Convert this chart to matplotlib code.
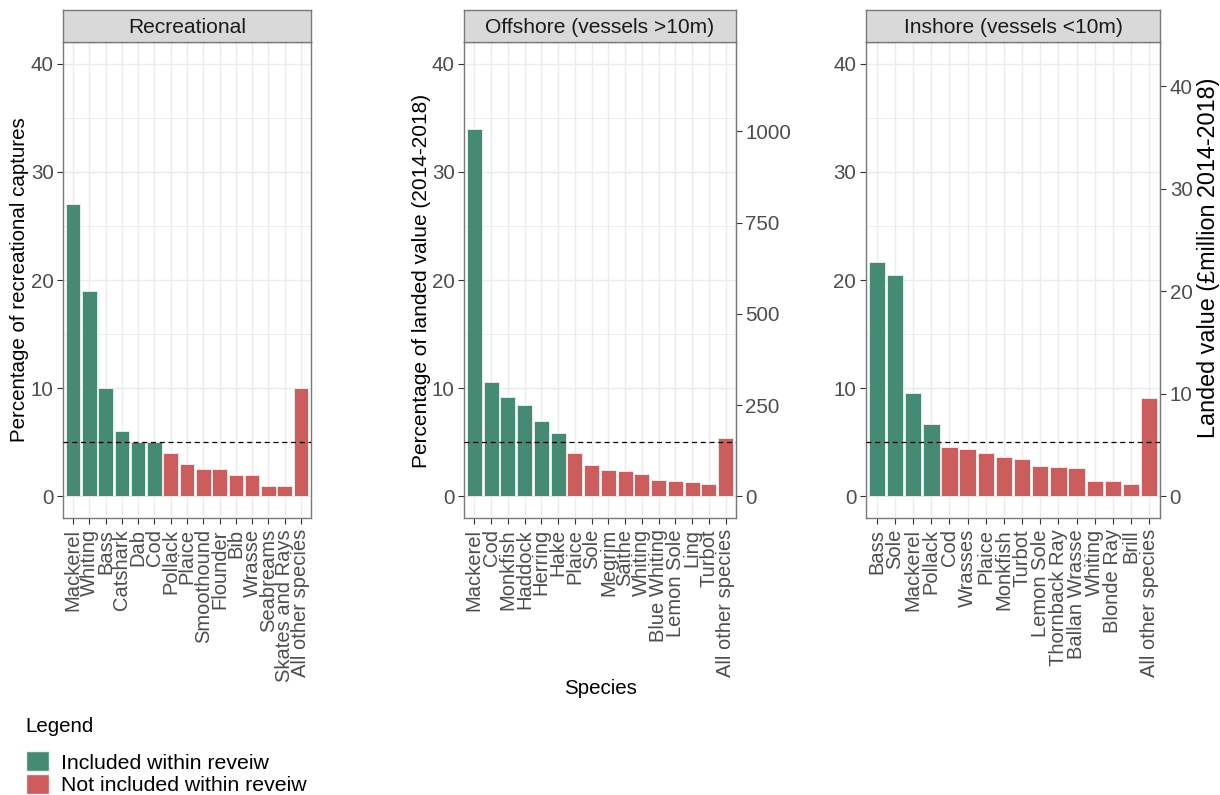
import numpy as np
import matplotlib
matplotlib.use("Agg")
import matplotlib.pyplot as plt
from matplotlib.patches import Patch

plt.rcParams['font.family'] = ['Liberation Sans', 'DejaVu Sans']

# dati
rec_species = ["Mackerel", "Whiting", "Bass", "Catshark", "Dab", "Cod", "Pollack", "Plaice",
               "Smoothound", "Flounder", "Bib", "Wrasse", "Seabreams", "Skates and Rays",
               "All other species"]
rec_pct = [27, 19, 10, 6, 5, 5, 4, 3, 2.5, 2.5, 2, 2, 1, 1, 10]
rec_included = [1, 1, 1, 1, 1, 1, 0, 0, 0, 0, 0, 0, 0, 0, 0]

off_species = ["Mackerel", "Cod", "Monkfish", "Haddock", "Herring", "Hake", "Plaice", "Sole",
               "Megrim", "Saithe", "Whiting", "Blue Whiting", "Lemon Sole", "Ling", "Turbot",
               "All other species"]
off_pct = [34.0, 10.6, 9.2, 8.4, 7.0, 5.85, 4.0, 2.9, 2.45, 2.3, 2.1, 1.55, 1.45, 1.35, 1.1, 5.35]
off_included = [1, 1, 1, 1, 1, 1, 0, 0, 0, 0, 0, 0, 0, 0, 0, 0]
off_total = 2963  # £million, per l'asse secondario

ins_species = ["Bass", "Sole", "Mackerel", "Pollack", "Cod", "Wrasses", "Plaice", "Monkfish",
               "Turbot", "Lemon Sole", "Thornback Ray", "Ballan Wrasse", "Whiting", "Blonde Ray",
               "Brill", "All other species"]
ins_pct = [21.7, 20.5, 9.55, 6.65, 4.6, 4.4, 4.0, 3.65, 3.45, 2.8, 2.75, 2.65, 1.45, 1.4, 1.15, 9.1]
ins_included = [1, 1, 1, 1, 0, 0, 0, 0, 0, 0, 0, 0, 0, 0, 0, 0]
ins_total = 105.5  # £million

threshold = 5

GREEN = "#458B74"
RED = "#CD5C5C"
GRID = "#EBEBEB"
BORDER = "#7A7A7A"
TXT = "#4D4D4D"
FS = 14.8

W, H = 1220, 795
fig = plt.figure(figsize=(W / 100, H / 100), dpi=100)


def pix(x0, x1, y_top=42, y_bot=518):
    return [x0 / W, 1 - y_bot / H, (x1 - x0) / W, (y_bot - y_top) / H]


def panel(rect, title, species, pct, incl):
    ax = fig.add_axes(pix(*rect))
    x = np.arange(len(species))
    cols = [GREEN if i else RED for i in incl]
    ax.bar(x, pct, width=0.9, color=cols, edgecolor="#F2F2F2", linewidth=0.6, zorder=2)
    ax.axhline(threshold, color="black", ls=(0, (4, 3)), lw=0.9, zorder=3)
    ax.set_xlim(-0.6, len(species) - 0.4)
    ax.set_ylim(-2, 42)
    ax.set_yticks([0, 10, 20, 30, 40])
    ax.set_yticks([5, 15, 25, 35], minor=True)
    ax.set_xticks(x)
    ax.set_xticklabels(species, rotation=90, ha="center", va="top")
    ax.grid(True, which="major", color=GRID, lw=1.0, zorder=0)
    ax.grid(True, which="minor", axis="y", color=GRID, lw=0.6, zorder=0)
    ax.set_axisbelow(True)
    ax.tick_params(which="major", labelsize=FS, labelcolor=TXT, color="#333333",
                   length=4, width=0.8, pad=3)
    ax.tick_params(axis="x", pad=4, labelsize=14.5)
    ax.tick_params(which="minor", length=0)
    for s in ax.spines.values():
        s.set_color(BORDER)
        s.set_linewidth(1.0)
    # striscia del titolo (stile facet)
    sx = fig.add_axes(pix(rect[0], rect[1], 10, 42))
    sx.set_facecolor("#D9D9D9")
    sx.set_xticks([]); sx.set_yticks([])
    for s in sx.spines.values():
        s.set_color(BORDER)
        s.set_linewidth(1.0)
    sx.text(0.5, 0.45, title, ha="center", va="center", fontsize=15.1, color="#1A1A1A",
            transform=sx.transAxes)
    return ax


ax1 = panel((63.3, 310.7), "Recreational", rec_species, rec_pct, rec_included)
ax2 = panel((464.3, 735.7), "Offshore (vessels >10m)", off_species, off_pct, off_included)
ax3 = panel((866, 1160), "Inshore (vessels <10m)", ins_species, ins_pct, ins_included)

sec2 = ax2.secondary_yaxis("right", functions=(lambda y: y * off_total / 100,
                                               lambda y: y * 100 / off_total))
sec2.set_yticks([0, 250, 500, 750, 1000])
sec3 = ax3.secondary_yaxis("right", functions=(lambda y: y * ins_total / 100,
                                               lambda y: y * 100 / ins_total))
sec3.set_yticks([0, 10, 20, 30, 40])
for sec in (sec2, sec3):
    sec.tick_params(labelsize=FS, labelcolor=TXT, color="#333333", length=4, width=0.8, pad=3)
    sec.spines["right"].set_color(BORDER)

# titoli assi
fig.text(19.5 / W, 1 - 280 / H, "Percentage of recreational captures", rotation=90,
         ha="center", va="center", fontsize=FS)
fig.text(421.5 / W, 1 - 281 / H, "Percentage of landed value (2014-2018)", rotation=90,
         ha="center", va="center", fontsize=15.0)
fig.text(1209 / W, 1 - 258 / H, "Landed value (£million 2014-2018)", rotation=90,
         ha="center", va="center", fontsize=16.8)
fig.text(600 / W, 1 - 688 / H, "Species", ha="center", va="center", fontsize=FS)

# legenda
fig.text(25 / W, 1 - 727 / H, "Legend", ha="left", va="center", fontsize=FS)
handles = [Patch(facecolor=GREEN, edgecolor="#F2F2F2", label="Included within reveiw"),
           Patch(facecolor=RED, edgecolor="#F2F2F2", label="Not included within reveiw")]
fig.legend(handles=handles, loc="lower left", bbox_to_anchor=(26 / W, 0),
           frameon=False, fontsize=15.3,
           handlelength=1.1, handleheight=1.1, labelspacing=0.05, handletextpad=0.55,
           borderpad=0.0, borderaxespad=0.0)

fig.savefig("out.png", dpi=100)
